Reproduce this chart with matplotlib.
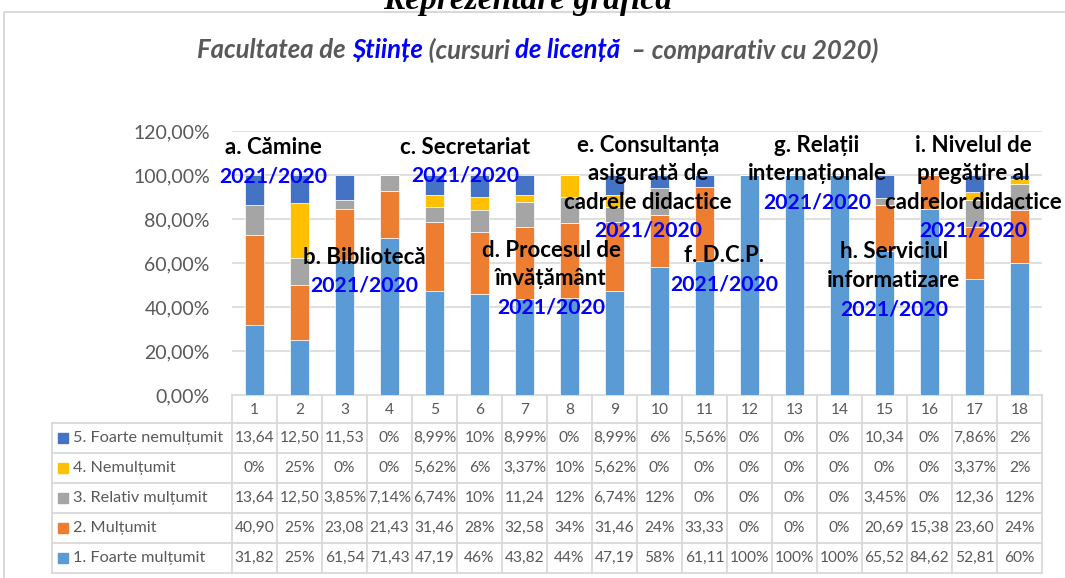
import matplotlib.pyplot as plt
from matplotlib.patches import Rectangle

W, H = 1065, 578

# date
categories = ['1', '2', '3', '4', '5', '6', '7', '8', '9', '10',
              '11', '12', '13', '14', '15', '16', '17', '18']
series_names = ['1. Foarte mulțumit', '2. Mulțumit', '3. Relativ mulțumit',
                '4. Nemulțumit', '5. Foarte nemulțumit']
foarte_multumit = [31.82, 25, 61.54, 71.43, 47.19, 46, 43.82, 44, 47.19, 58,
                   61.11, 100, 100, 100, 65.52, 84.62, 52.81, 60]
multumit = [40.90, 25, 23.08, 21.43, 31.46, 28, 32.58, 34, 31.46, 24,
            33.33, 0, 0, 0, 20.69, 15.38, 23.60, 24]
relativ = [13.64, 12.50, 3.85, 7.14, 6.74, 10, 11.24, 12, 6.74, 12,
           0, 0, 0, 0, 3.45, 0, 12.36, 12]
nemultumit = [0, 25, 0, 0, 5.62, 6, 3.37, 10, 5.62, 0,
              0, 0, 0, 0, 0, 0, 3.37, 2]
foarte_nemultumit = [13.64, 12.50, 11.53, 0, 8.99, 10, 8.99, 0, 8.99, 6,
                     5.56, 0, 0, 0, 10.34, 0, 7.86, 2]
series = [foarte_multumit, multumit, relativ, nemultumit, foarte_nemultumit]
colors = ['#5B9BD5', '#ED7D31', '#A5A5A5', '#FFC000', '#4472C4']

# etichete in grafic: (x, y, randuri negre)
labels = [
    (0.41, 112.3, ['a. Cămine']),
    (2.43, 62.7, ['b. Bibliotecă']),
    (4.68, 112.7, ['c. Secretariat']),
    (6.59, 65.9, ['d. Procesul de', 'învățământ']),
    (8.74, 113.6, ['e. Consultanța', 'asigurată de', 'cadrele didactice']),
    (10.43, 63.2, ['f. D.C.P.']),
    (12.5, 113.6, ['g. Relații', 'internaționale']),
    (14.21, 65.0, ['h. Serviciul', 'informatizare']),
    (15.97, 113.6, ['i. Nivelul de', 'pregătire al', 'cadrelor didactice']),
]

FONT = 'Lato'
GRAY = '#595959'
plt.rcParams['font.family'] = [FONT, 'DejaVu Sans']

fig = plt.figure(figsize=(W / 100, H / 100), dpi=100)

# grafic
ax = fig.add_axes([232 / W, 1 - 395 / H, 810 / W, 264 / H])
bottom = [0] * len(categories)
for vals, name, c in zip(series, series_names, colors):
    ax.bar(range(len(categories)), vals, width=0.42, bottom=bottom, color=c,
           edgecolor='white', linewidth=0.5, label=name, zorder=2)
    bottom = [b + v for b, v in zip(bottom, vals)]

ax.set_xlim(-0.5, len(categories) - 0.5)
ax.set_ylim(0, 120)
ax.set_yticks(range(0, 121, 20))
ax.set_yticklabels([f'{t:.2f}%'.replace('.', ',') for t in range(0, 121, 20)],
                   fontsize=14, color=GRAY)
ax.tick_params(axis='y', length=0, pad=16)
ax.set_xticks([])
ax.grid(axis='y', color='#d9d9d9', lw=1.2, zorder=0)
for s in ax.spines.values():
    s.set_visible(False)

step = 13
for x, y, lines in labels:
    for i, t in enumerate(lines):
        ax.text(x, y - i * step, t, ha='center', va='center', fontsize=16,
                fontweight='bold', color='black', zorder=5)
    ax.text(x, y - len(lines) * step, '2021/2020', ha='center', va='center',
            fontsize=15.3, fontweight='bold', color='#0000ff', zorder=5)

# strat de suprapunere in pixeli: cadru, titluri, tabel
ov = fig.add_axes([0, 0, 1, 1], zorder=-1)
ov.set_xlim(0, W)
ov.set_ylim(H, 0)
ov.axis('off')

ov.add_patch(Rectangle((4, 12), W, H, fill=False, ec='#d9d9d9', lw=1.5))
ov.text(528, 0, 'Reprezentare grafică', ha='center', va='center',
        fontsize=24, fontweight='bold', fontstyle='italic',
        family='Liberation Serif', color='black')

# subtitlu colorat
parts = [('Facultatea de ', GRAY), ('Științe', '#0000ff'), (' (cursuri ', GRAY),
         ('de licență', '#0000ff'), ('  – comparativ cu 2020)', GRAY)]
renderer = fig.canvas.get_renderer()
texts = []
x0 = 0
for t, c in parts:
    tx = ov.text(x0, 50, t, ha='left', va='center', fontsize=18.5,
                 fontweight='bold', fontstyle='italic', color=c)
    bb = tx.get_window_extent(renderer)
    texts.append((tx, bb.width))
    x0 += bb.width
start = 538 - x0 / 2
for tx, w in texts:
    tx.set_x(start)
    start += w

# tabel
col_left, col_w = 232, 45
lab_left = 52
top, head_h, row_h = 395, 28, 30
grid = dict(color='#d9d9d9', lw=1.3)


def fmt(v):
    if float(v).is_integer():
        s = f'{v:.0f}%'
    else:
        s = f'{v:.2f}%'.replace('.', ',')
    return s if len(s) <= 5 else s[:-1]


n = len(categories)
right = col_left + n * col_w
bot = top + head_h + 5 * row_h
# linii orizontale
ov.plot([col_left, right], [top, top], **grid)
for r in range(6):
    y = top + head_h + r * row_h
    ov.plot([lab_left, right], [y, y], **grid)
# linii verticale
for cidx in range(n + 1):
    x = col_left + cidx * col_w
    ov.plot([x, x], [top, bot], **grid)
ov.plot([lab_left, lab_left], [top + head_h, bot], **grid)

NS = 11.2
for cidx, cat in enumerate(categories):
    ov.text(col_left + (cidx + 0.5) * col_w, top + head_h / 2 + 1, cat,
            ha='center', va='center', fontsize=NS, color=GRAY)

rows = list(zip(series_names, series, colors))[::-1]
for r, (name, vals, c) in enumerate(rows):
    yc = top + head_h + (r + 0.5) * row_h
    ov.add_patch(Rectangle((58, yc - 5), 10, 10, color=c))
    ov.text(73, yc, name, ha='left', va='center', fontsize=11.7, color=GRAY)
    for cidx, v in enumerate(vals):
        ov.text(col_left + (cidx + 0.5) * col_w, yc, fmt(v), ha='center',
                va='center', fontsize=NS, color=GRAY)

fig.savefig('out.png', dpi=100)
